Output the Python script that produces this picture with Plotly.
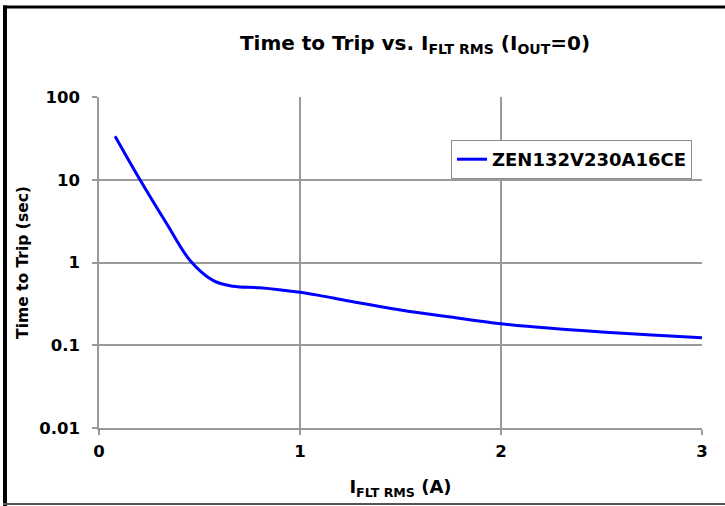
import plotly.graph_objects as go

series_name = "ZEN132V230A16CE"
current_a = [0.08, 0.204, 0.337, 0.453, 0.569, 0.668, 0.8, 1.0, 1.1,
             1.25, 1.5, 1.75, 2.0, 2.25, 2.5, 2.75, 3.0]
trip_time_s = [33.6, 10.0, 2.94, 1.06, 0.605, 0.516, 0.495, 0.436, 0.398,
               0.34, 0.267, 0.219, 0.182, 0.160, 0.145, 0.133, 0.123]

x_ticks = [0, 1, 2, 3]
y_ticks = [0.01, 0.1, 1, 10, 100]
y_tick_text = ["0.01", "0.1", "1", "10", "100"]

W, H = 725, 506
L, R, T, B = 99, 23, 97, 78
pw, ph = W - L - R, H - T - B


def px(xp):
    return (xp - L) / pw


def py(yp):
    return (H - B - yp) / ph


fig = go.Figure()
fig.add_trace(go.Scatter(
    x=current_a, y=trip_time_s, mode="lines", name=f"<b>{series_name}</b>",
    line=dict(color="#0000ff", width=3, shape="spline", smoothing=1.0),
))

font_family = "DejaVu Sans"
grid_col = "#9a9a9a"

fig.update_layout(
    width=W, height=H,
    margin=dict(l=L, r=R, t=T, b=B),
    paper_bgcolor="white", plot_bgcolor="white",
    font=dict(family=font_family, color="black"),
    title=dict(
        text="<b>Time to Trip vs. I<sub>FLT RMS</sub> (I<sub>OUT</sub>=0)</b>",
        x=415 / W, xanchor="center", y=1 - 43 / H, yanchor="middle",
        font=dict(size=20, family=font_family, color="black"),
    ),
    showlegend=True,
    legend=dict(
        x=px(692), xanchor="right", y=py(140), yanchor="top",
        bordercolor="#8c8c8c", borderwidth=1, bgcolor="white",
        font=dict(size=18, family=font_family, color="black"),
        itemwidth=30,
    ),
    xaxis=dict(
        range=[0, 3], tickvals=x_ticks, ticktext=[f"<b>{v}</b>" for v in x_ticks],
        showgrid=True, gridcolor=grid_col, gridwidth=1.5,
        showline=True, linecolor=grid_col, linewidth=1.5,
        ticks="outside", ticklen=5, tickcolor=grid_col, tickwidth=1.5,
        ticklabelstandoff=2,
        tickfont=dict(size=16.5, family=font_family, color="black"),
        zeroline=False,
        title=dict(text="<b>I<sub>FLT RMS</sub> (A)</b>", standoff=21,
                   font=dict(size=18, family=font_family, color="black")),
    ),
    yaxis=dict(
        type="log", range=[-2, 2], tickvals=y_ticks,
        ticktext=[f"<b>{t}</b>" for t in y_tick_text],
        showgrid=True, gridcolor=grid_col, gridwidth=1.5,
        showline=True, linecolor=grid_col, linewidth=1.5,
        ticks="outside", ticklen=5, tickcolor=grid_col, tickwidth=1.5,
        ticklabelstandoff=9,
        tickfont=dict(size=16.5, family=font_family, color="black"),
        zeroline=False,
        title=dict(text="<b>Time to Trip (sec)</b>", standoff=7,
                   font=dict(size=15.5, family=font_family, color="black")),
    ),
)

# frame lines around the picture
fig.add_shape(type="line", xref="paper", yref="paper",
              x0=px(3), x1=px(W + 2), y0=py(7), y1=py(7),
              line=dict(color="black", width=3))
fig.add_shape(type="line", xref="paper", yref="paper",
              x0=px(5), x1=px(5), y0=py(5.5), y1=py(H + 2),
              line=dict(color="black", width=4))
fig.add_shape(type="line", xref="paper", yref="paper",
              x0=px(3), x1=px(W + 2), y0=py(504), y1=py(504),
              line=dict(color="#555555", width=2))

fig.write_html("out.html")
